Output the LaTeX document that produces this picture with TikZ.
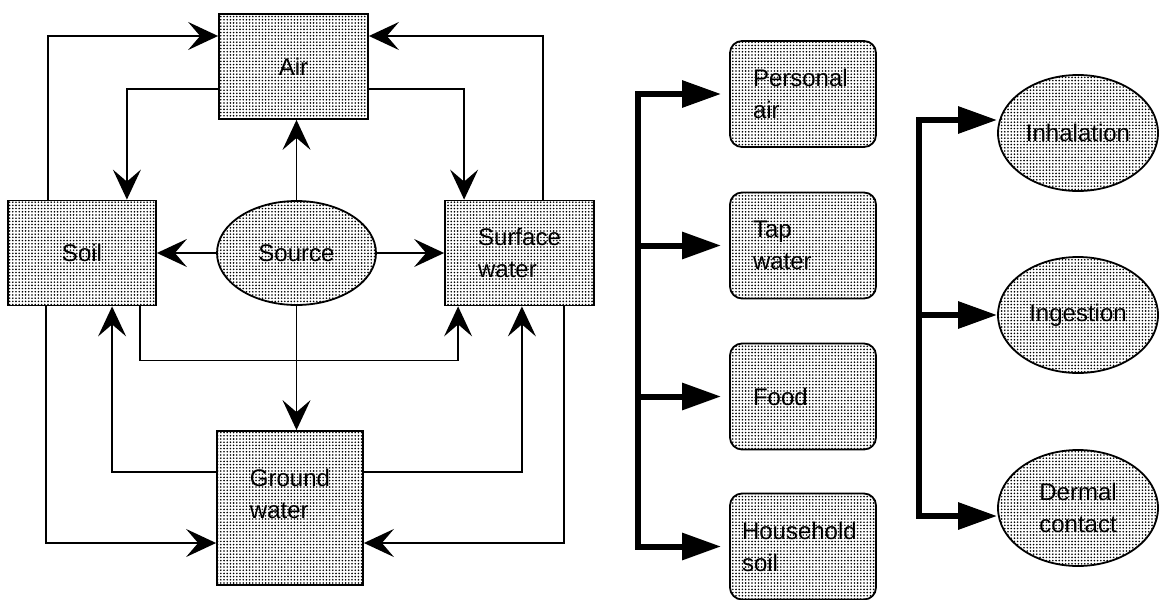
\documentclass[tikz,border=0pt]{standalone}
\usepackage{fontspec}
\setmainfont{Liberation Sans}
\usetikzlibrary{arrows.meta,shapes.geometric,patterns.meta}

\begin{document}
\begin{tikzpicture}
[ x=0.5pt, y=-0.5pt, line width=0.9pt
, font=\fontsize{12}{16}\selectfont
, speckle/.style={pattern={Dots[radius=0.45pt,distance=1.6pt]}, pattern color=black}
, compartment/.style={rectangle, draw, speckle, inner sep=0pt, minimum width=74.5pt, minimum height=52.5pt, align=left}
, source/.style={ellipse, draw, speckle, inner sep=0pt, minimum width=79.5pt, minimum height=52pt}
, medium/.style={rectangle, rounded corners=6pt, draw, speckle, inner sep=0pt, minimum width=73pt, minimum height=53pt, text width=50pt, align=left}
, route/.style={ellipse, draw, speckle, inner sep=0pt, minimum width=80pt, minimum height=58pt, align=center}
, flow/.style={-{Stealth[length=15pt,width=14pt,inset=6pt]}}
, bus/.style={line width=3pt, -{Triangle[length=19.5pt,width=13pt]}}
]
\useasboundingbox (0,0) rectangle (1160,599);
% Compartments:
\node (air) [compartment] at (293.5,66.5) {Air};
\node (soil) [compartment, minimum width=74pt] at (82,253) {Soil};
\node (water) [compartment] at (519.5,253) {Surface\\water};
\node (src) [source] at (296.5,253) {Source};
\node (gw) [compartment, minimum width=73pt, minimum height=77pt] at (290,508) {};
\node (gwtext) [align=left] at ([yshift=7pt]gw.center) {Ground\\water};
% Exposure media:
\node (pair) [medium] at (803,94) {Personal\\air};
\node (tap) [medium] at (803,245.5) {Tap\\water};
\node (food) [medium] at (803,396.5) {Food};
\node (hsoil) [medium, text width=61pt] at (803,546.5) {Household\\soil};
% Exposure routes:
\node (inh) [route] at (1078,133) {Inhalation};
\node (ing) [route] at (1078,315) {Ingestion};
\node (derm) [route] at (1078,508) {Dermal\\contact};
% Transfers round the air box:
\draw [flow] ([xshift=20.5pt]soil.north west) |- ([yshift=15.25pt]air.west);
\draw [flow] ([xshift=-26pt]water.north east) |- ([yshift=15.25pt]air.east);
\draw [flow] ([yshift=-11.25pt]air.west) -| ([xshift=-15pt]soil.north east);
\draw [flow] ([yshift=-11.25pt]air.east) -| ([xshift=10pt]water.north west);
% Out of the source:
\draw [flow] (src.north) -- (src.north |- air.south);
\draw [flow] (src.west) -- (soil.east);
\draw [flow] (src.east) -- (water.west);
\draw [flow] (src.south) -- (src.south |- gw.north);
% Transfers round the ground water box:
\draw [flow] ([xshift=-8.5pt]soil.south east) -- ++(0,-27pt) -| ([xshift=7pt]water.south west);
\draw [flow] ([yshift=18pt]gw.west) -| ([xshift=52.5pt]soil.south west);
\draw [flow] ([yshift=18pt]gw.east) -| ([xshift=-36.5pt]water.south east);
\draw [flow] ([xshift=19.5pt]soil.south west) |- ([yshift=-17.5pt]gw.west);
\draw [flow] ([xshift=-15.5pt]water.south east) |- ([yshift=-17.5pt]gw.east);
% Media branch:
\draw [bus, shorten >=4pt] ([xshift=-45.5pt]food.west) |- (pair.west);
\draw [bus, shorten >=4pt] ([xshift=-45.5pt]food.west) |- (hsoil.west);
\draw [bus, shorten >=4pt] ([xshift=-45.5pt]tap.west) -- (tap.west);
\draw [bus, shorten >=4pt] ([xshift=-45.5pt]food.west) -- (food.west);
% Routes branch:
\draw [bus] ([xshift=-39pt]ing.west) |- ([yshift=6.5pt]inh.west);
\draw [bus] ([xshift=-39pt]ing.west) |- ([yshift=-4pt]derm.west);
\draw [bus] ([xshift=-39pt]ing.west) -- (ing.west);
\end{tikzpicture}
\end{document}
